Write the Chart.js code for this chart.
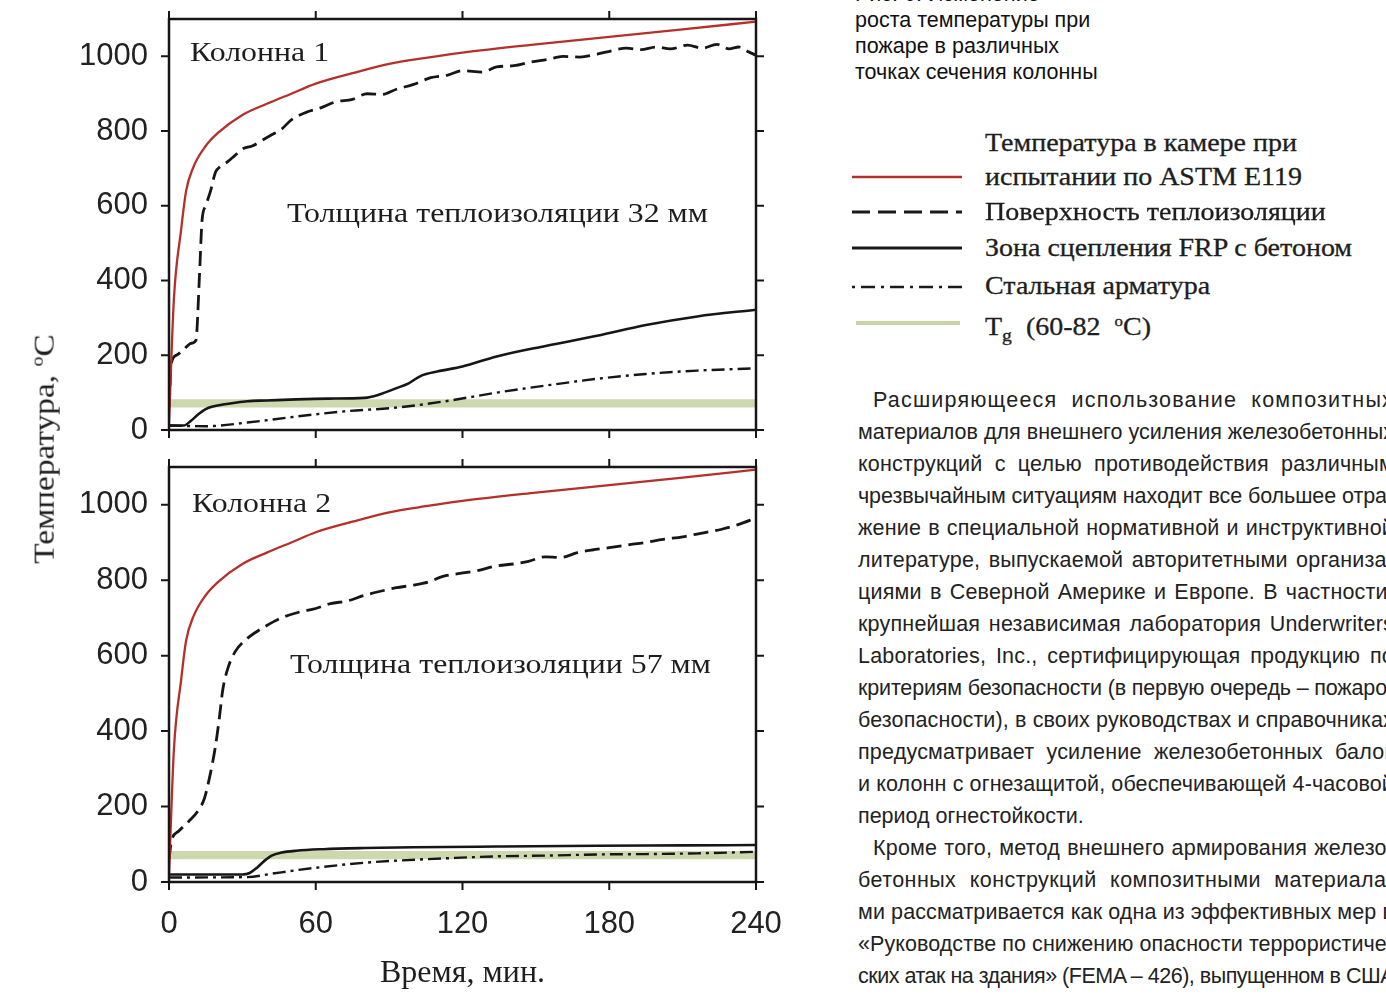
<!DOCTYPE html>
<html lang="ru">
<head>
    <meta charset="UTF-8">
    <title>Изменение роста температуры при пожаре</title>
    <script src="https://cdn.jsdelivr.net/npm/chart.js"></script>
    <style>
        html, body {
            margin: 0;
            padding: 0;
        }
        body {
            width: 1386px;
            height: 996px;
            overflow: hidden;
            position: relative;
            background: #fff;
            color: #1c1c1c;
        }
        canvas {
            position: absolute;
            left: 0;
        }
        #chartTop { top: 0; }
        #chartBottom { top: 445px; }
        .serif {
            position: absolute;
            font-family: 'Liberation Serif', 'Times New Roman', serif;
            white-space: nowrap;
            color: #1e1e1e;
            transform-origin: left center;
        }
        .note {
            font-size: 27px;
            line-height: 30px;
            transform: scaleX(1.18);
        }
        #ytitle {
            left: 40px;
            top: 449px;
            font-size: 29px;
            line-height: 34px;
            transform-origin: center center;
            transform: translate(-50%, -50%) rotate(-90deg) scaleX(1.15);
        }
        #ytitle sup, .leg sup {
            font-size: 0.6em;
        }
        .caption {
            position: absolute;
            left: 855px;
            top: -19px;
            font-family: 'Liberation Sans', Arial, sans-serif;
            font-size: 21.5px;
            line-height: 26px;
            color: #111;
        }
        .leg {
            font-size: 25px;
            line-height: 30px;
            left: 985px;
            transform: scaleX(1.12);
            -webkit-text-stroke: 0.3px #1e1e1e;
        }
        .legline {
            position: absolute;
            left: 850px;
        }
        .txt {
            position: absolute;
            height: 32px;
            white-space: nowrap;
            font-family: 'Liberation Sans', Arial, sans-serif;
            font-size: 21.5px;
            letter-spacing: 0.2px;
            line-height: 32px;
            color: #222;
        }
        .txt.last {
            letter-spacing: 0;
        }
    </style>
</head>
<body>
    <canvas id="chartTop" width="800" height="445"></canvas>
    <canvas id="chartBottom" width="800" height="551"></canvas>

    <div id="ytitle" class="serif">Температура, <sup>o</sup>C</div>
    <div class="serif note" style="left:190px; top:37px;">Колонна 1</div>
    <div class="serif note" style="left:287px; top:198px;">Толщина теплоизоляции 32 мм</div>
    <div class="serif note" style="left:192px; top:488px;">Колонна 2</div>
    <div class="serif note" style="left:290px; top:649px;">Толщина теплоизоляции 57 мм</div>

    <div class="caption">Рис. 6. Изменение<br>роста температуры при<br>пожаре в различных<br>точках сечения колонны</div>

    <!-- легенда -->
    <div class="serif leg" style="top:128px;">Температура в камере при</div>
    <div class="serif leg" style="top:162px;">испытании по ASTM E119</div>
    <div class="serif leg" style="top:197px;">Поверхность теплоизоляции</div>
    <div class="serif leg" style="top:233px;">Зона сцепления FRP с бетоном</div>
    <div class="serif leg" style="top:271px;">Стальная арматура</div>
    <div class="serif leg" style="top:306px;">T<sub style="font-size:0.7em">g</sub>&nbsp; (60-82 &nbsp;<sup>o</sup>C)</div>
    <svg class="legline" style="top:172px" width="115" height="10"><line x1="2" y1="5" x2="112" y2="5" stroke="#b5302a" stroke-width="2.5"/></svg>
    <svg class="legline" style="top:207px" width="115" height="10"><line x1="2" y1="5" x2="112" y2="5" stroke="#1a1a1a" stroke-width="3" stroke-dasharray="18 8"/></svg>
    <svg class="legline" style="top:243px" width="115" height="10"><line x1="2" y1="5" x2="112" y2="5" stroke="#1a1a1a" stroke-width="3"/></svg>
    <svg class="legline" style="top:282px" width="115" height="10"><line x1="2" y1="5" x2="112" y2="5" stroke="#1a1a1a" stroke-width="2.5" stroke-dasharray="3 6 14 6"/></svg>
    <svg class="legline" style="top:318px" width="115" height="10"><line x1="6" y1="5" x2="110" y2="5" stroke="#c9d3a8" stroke-width="4"/></svg>

    <!-- текст статьи -->
    <div class="txt" style="left:873px; width:521px; top:384px;">Расширяющееся использование композитных</div>
    <div class="txt" style="left:858px; width:536px; top:416px;">материалов для внешнего усиления железобетонных</div>
    <div class="txt" style="left:858px; width:536px; top:448px;">конструкций с целью противодействия различным</div>
    <div class="txt" style="left:858px; width:536px; top:480px;">чрезвычайным ситуациям находит все большее отра-</div>
    <div class="txt" style="left:858px; width:536px; top:512px;">жение в специальной нормативной и инструктивной</div>
    <div class="txt" style="left:858px; width:536px; top:544px;">литературе, выпускаемой авторитетными организа-</div>
    <div class="txt" style="left:858px; width:536px; top:576px;">циями в Северной Америке и Европе. В частности,</div>
    <div class="txt" style="left:858px; width:536px; top:608px;">крупнейшая независимая лаборатория Underwriters</div>
    <div class="txt" style="left:858px; width:536px; top:640px;">Laboratories, Inc., сертифицирующая продукцию по</div>
    <div class="txt" style="left:858px; width:536px; top:672px;">критериям безопасности (в первую очередь – пожаро-</div>
    <div class="txt" style="left:858px; width:536px; top:704px;">безопасности), в своих руководствах и справочниках</div>
    <div class="txt" style="left:858px; width:536px; top:736px;">предусматривает усиление железобетонных балок</div>
    <div class="txt" style="left:858px; width:536px; top:768px;">и колонн с огнезащитой, обеспечивающей 4-часовой</div>
    <div class="txt last" style="left:858px; width:536px; top:800px;">период огнестойкости.</div>
    <div class="txt" style="left:873px; width:521px; top:832px;">Кроме того, метод внешнего армирования железо-</div>
    <div class="txt" style="left:858px; width:536px; top:864px;">бетонных конструкций композитными материала-</div>
    <div class="txt" style="left:858px; width:536px; top:896px;">ми рассматривается как одна из эффективных мер в</div>
    <div class="txt" style="left:858px; width:536px; top:928px;">«Руководстве по снижению опасности террористиче-</div>
    <div class="txt" style="left:858px; width:536px; top:960px;">ских атак на здания» (FEMA – 426), выпущенном в США</div>

    <script>
        // оси
        const xTicks = [0, 60, 120, 180, 240];
        const yTicks = [0, 200, 400, 600, 800, 1000];
        const tgLow = 60;   // Tg, нижняя граница
        const tgHigh = 82;  // Tg, верхняя граница

        // температура в камере (ASTM E119), одинакова для обеих колонн
        const fireTime = [0, 2, 5, 7, 10, 15, 20, 30, 40, 50, 60, 75, 90, 105, 120, 150, 180, 210, 240];
        const fireTemp = [20, 350, 538, 640, 704, 760, 795, 843, 873, 900, 927, 955, 980, 996, 1010, 1032, 1052, 1072, 1093];

        // Колонна 1 (32 мм)
        const c1SurfTime = [0, 1, 3, 6, 9, 11, 12.5, 13.5, 15, 17, 19, 21, 24, 27, 30, 34, 38, 42, 46, 50, 56, 62, 68, 75, 81, 87, 93, 100, 107, 114, 120, 128, 134, 141, 148, 155, 161, 168, 175, 181, 187, 193, 199, 205, 212, 218, 224, 229, 233, 237, 240];
        const c1SurfTemp = [60, 180, 200, 215, 232, 240, 420, 560, 600, 640, 690, 705, 718, 735, 752, 760, 775, 790, 805, 830, 850, 862, 878, 885, 900, 898, 912, 925, 943, 950, 962, 958, 972, 975, 985, 992, 1000, 998, 1006, 1015, 1022, 1018, 1025, 1020, 1030, 1022, 1032, 1020, 1025, 1012, 1003];
        const c1BondTime = [0, 6, 9, 12, 15, 18, 22, 27, 32, 40, 52, 65, 80, 86, 93, 98, 103, 110, 120, 134, 154, 175, 195, 216, 240];
        const c1BondTemp = [12, 12, 25, 42, 56, 63, 68, 73, 77, 79, 82, 84, 86, 95, 112, 125, 145, 157, 170, 197, 225, 252, 281, 304, 322];
        const c1SteelTime = [0, 15, 32, 52, 72, 93, 113, 134, 154, 175, 195, 216, 240];
        const c1SteelTemp = [12, 10, 20, 36, 50, 60, 77, 100, 119, 137, 150, 159, 165];

        // Колонна 2 (57 мм)
        const c2SurfTime = [0, 1, 4, 8, 12, 14.5, 17, 19, 20.5, 22, 24, 27, 31, 35, 40, 46, 53, 60, 66, 73, 80, 86, 93, 99, 106, 112, 119, 126, 134, 141, 147, 154, 160, 167, 173, 180, 187, 195, 202, 210, 218, 226, 233, 240];
        const c2SurfTemp = [60, 108, 135, 160, 190, 222, 290, 360, 430, 510, 565, 610, 640, 660, 680, 700, 715, 725, 738, 745, 760, 770, 780, 786, 795, 810, 818, 825, 838, 843, 850, 862, 860, 873, 880, 886, 893, 900, 908, 915, 925, 935, 948, 965];
        const c2BondTime = [0, 30, 33, 36, 39, 42, 46, 52, 63, 80, 100, 134, 175, 210, 240];
        const c2BondTemp = [20, 20, 24, 38, 56, 70, 78, 83, 87, 90, 92, 94, 96, 97, 98];
        const c2SteelTime = [0, 32, 42, 53, 63, 73, 84, 94, 114, 134, 155, 175, 195, 216, 240];
        const c2SteelTemp = [12, 13, 22, 32, 40, 47, 53, 57, 63, 68, 70, 73, 74, 76, 80];

        const RED = '#b5302a';
        const INK = '#161616';
        const TG = 'rgba(190, 203, 148, 0.75)';

        // выравнивание строк статьи по ширине колонки:
        // небольшой запас уходит в пробелы, остальное - в межбуквенный интервал
        document.querySelectorAll('.txt').forEach(el => {
            if (el.classList.contains('last')) return;
            const target = parseFloat(el.style.width);
            const text = el.textContent;
            el.style.width = 'auto';
            const natural = el.getBoundingClientRect().width;
            const spaces = (text.match(/ /g) || []).length;
            const extra = target - natural;
            if (extra >= 0) {
                const ws = Math.min(extra / spaces, 7);
                el.style.wordSpacing = ws + 'px';
                el.style.letterSpacing = (0.2 + (extra - ws * spaces) / text.length) + 'px';
            } else {
                el.style.letterSpacing = (0.2 + extra / text.length) + 'px';
            }
        });

        const pts = (ts, vs) => ts.map((t, i) => ({ x: t, y: vs[i] }));

        // рамка и внешние засечки на всех четырёх сторонах
        const frameTicks = {
            id: 'frameTicks',
            afterDatasetsDraw(chart) {
                const { ctx, chartArea: a, scales: { x, y } } = chart;
                const len = 8;
                ctx.save();
                ctx.strokeStyle = INK;
                ctx.lineWidth = 2.5;
                ctx.strokeRect(a.left, a.top, a.right - a.left, a.bottom - a.top);
                ctx.lineWidth = 2;
                ctx.beginPath();
                x.ticks.forEach(t => {
                    const px = x.getPixelForValue(t.value);
                    ctx.moveTo(px, a.bottom); ctx.lineTo(px, a.bottom + len);
                    ctx.moveTo(px, a.top); ctx.lineTo(px, a.top - len);
                });
                y.ticks.forEach(t => {
                    const py = y.getPixelForValue(t.value);
                    ctx.moveTo(a.left, py); ctx.lineTo(a.left - len, py);
                    ctx.moveTo(a.right, py); ctx.lineTo(a.right + len, py);
                });
                ctx.stroke();
                ctx.restore();
            }
        };

        function datasets(surfT, surfV, bondT, bondV, steelT, steelV) {
            return [
                { label: 'Температура в камере при испытании по ASTM E119', data: pts(fireTime, fireTemp), borderColor: RED, borderWidth: 2.3 },
                { label: 'Поверхность теплоизоляции', data: pts(surfT, surfV), borderColor: INK, borderWidth: 2.8, borderDash: [15, 7] },
                { label: 'Зона сцепления FRP с бетоном', data: pts(bondT, bondV), borderColor: INK, borderWidth: 2.6 },
                { label: 'Стальная арматура', data: pts(steelT, steelV), borderColor: INK, borderWidth: 2.4, borderDash: [13, 5, 3, 5] },
                { label: 'Tg (60-82 °C)', data: pts([0, 240], [tgHigh, tgHigh]), borderWidth: 0, backgroundColor: TG, fill: { value: tgLow }, order: 10 }
            ];
        }

        function options(bottomPanel) {
            return {
                responsive: false,
                animation: false,
                layout: { padding: { top: bottomPanel ? 22 : 19, right: 44, left: 0, bottom: 0 } },
                plugins: { legend: { display: false }, tooltip: { enabled: false } },
                elements: {
                    point: { radius: 0 },
                    line: { cubicInterpolationMode: 'monotone', fill: false, borderCapStyle: 'butt' }
                },
                scales: {
                    x: {
                        type: 'linear', min: 0, max: 240,
                        afterBuildTicks: s => { s.ticks = xTicks.map(v => ({ value: v })); },
                        afterFit: s => {
                            s.height = bottomPanel ? 114 : 15;
                            s.paddingLeft = 0;
                            s.paddingRight = 0;
                        },
                        grid: { display: false },
                        border: { display: false },
                        ticks: {
                            display: bottomPanel, padding: 16, color: '#222',
                            callback: v => String(v),
                            font: { family: "'Liberation Sans', Arial, sans-serif", size: 31 }
                        },
                        title: {
                            display: bottomPanel, text: 'Время, мин.', color: '#1e1e1e',
                            padding: { top: 0, bottom: 3 },
                            font: { family: "'Liberation Serif', 'Times New Roman', serif", size: 32 }
                        }
                    },
                    y: {
                        min: 0, max: 1100,
                        afterBuildTicks: s => { s.ticks = yTicks.map(v => ({ value: v })); },
                        afterFit: s => {
                            s.width = 169;
                            s.paddingTop = 0;
                            s.paddingBottom = 0;
                        },
                        grid: { display: false },
                        border: { display: false },
                        ticks: {
                            padding: 13, color: '#222',
                            callback: v => String(v),
                            font: { family: "'Liberation Sans', Arial, sans-serif", size: 31 }
                        }
                    }
                }
            };
        }

        new Chart(document.getElementById('chartTop'), {
            type: 'line',
            data: { datasets: datasets(c1SurfTime, c1SurfTemp, c1BondTime, c1BondTemp, c1SteelTime, c1SteelTemp) },
            options: options(false),
            plugins: [frameTicks]
        });

        new Chart(document.getElementById('chartBottom'), {
            type: 'line',
            data: { datasets: datasets(c2SurfTime, c2SurfTemp, c2BondTime, c2BondTemp, c2SteelTime, c2SteelTemp) },
            options: options(true),
            plugins: [frameTicks]
        });
    </script>
</body>
</html>
